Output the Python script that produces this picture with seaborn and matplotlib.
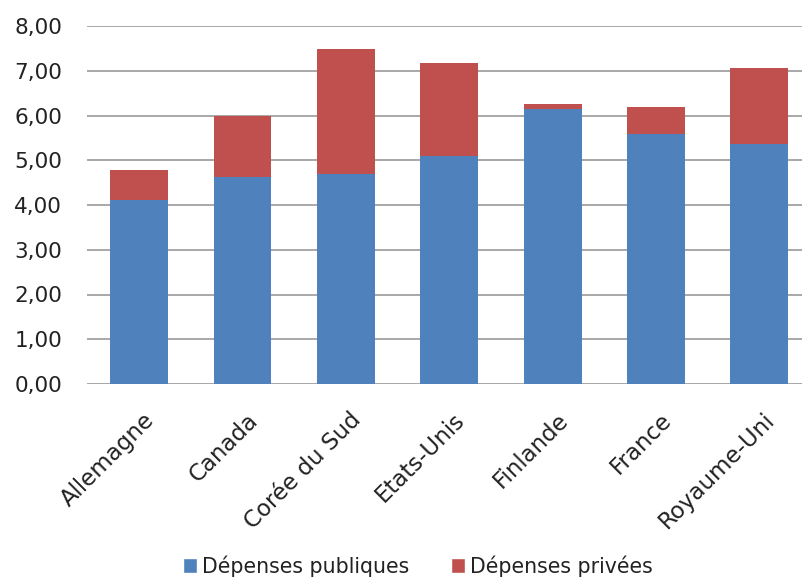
import matplotlib
matplotlib.use("Agg")
import matplotlib.pyplot as plt
from matplotlib.patches import Patch
from matplotlib.ticker import FuncFormatter
from matplotlib.transforms import ScaledTranslation
import seaborn as sns
import pandas as pd

pays = ["Allemagne", "Canada", "Corée du Sud", "Etats-Unis", "Finlande", "France", "Royaume-Uni"]
publiques = [4.11, 4.63, 4.69, 5.09, 6.14, 5.59, 5.36]
privees = [0.67, 1.37, 2.79, 2.09, 0.11, 0.59, 1.71]
yticks = [0, 1, 2, 3, 4, 5, 6, 7, 8]

blue = "#4F81BD"
red = "#C0504D"

df = pd.DataFrame({"pays": pays, "publiques": publiques, "privees": privees})
df["total"] = df["publiques"] + df["privees"]

sns.set_theme(style="white")
plt.rcParams["font.family"] = ["DejaVu Sans"]

fig = plt.figure(figsize=(8.03, 5.83), dpi=100)
ax = fig.add_axes([87.5 / 803, 1 - 384 / 583, (811 - 87.5) / 803, (384 - 26) / 583])

sns.barplot(data=df, x="pays", y="total", color=red, saturation=1, width=0.56,
            linewidth=0, ax=ax, zorder=3)
sns.barplot(data=df, x="pays", y="publiques", color=blue, saturation=1, width=0.56,
            linewidth=0, ax=ax, zorder=3)

ax.set_ylim(0, 8)
ax.set_yticks(yticks)
ax.yaxis.set_major_formatter(FuncFormatter(lambda v, p: f"{v:.2f}".replace(".", ",")))
ax.grid(axis="y", color="#9a9a9a", linewidth=1.2, zorder=0)
ax.grid(axis="x", visible=False)
ax.set_axisbelow(True)
for s in ax.spines.values():
    s.set_visible(False)
ax.set_xlabel("")
ax.set_ylabel("")
ax.tick_params(axis="y", length=0, pad=18.4, labelsize=15.5, labelcolor="#222222")
ax.tick_params(axis="x", length=0, pad=17.5, labelsize=16.5, labelcolor="#222222")
off = ScaledTranslation(4 / 100, 0, fig.dpi_scale_trans)
for lbl in ax.get_xticklabels():
    lbl.set_rotation(45)
    lbl.set_ha("right")
    lbl.set_va("top")
    lbl.set_rotation_mode("anchor")
    lbl.set_transform(lbl.get_transform() + off)

handles = [Patch(facecolor=blue, label="Dépenses publiques"),
           Patch(facecolor=red, label="Dépenses privées")]
fig.legend(handles=handles, loc="center", bbox_to_anchor=(418 / 803, 1 - 566 / 583),
           ncol=2, frameon=False, fontsize=14.8, handlelength=0.7, handleheight=0.7,
           handletextpad=0.25, columnspacing=2.0, labelcolor="#222222",
           borderaxespad=0, borderpad=0)

fig.savefig("out.png", dpi=100)
